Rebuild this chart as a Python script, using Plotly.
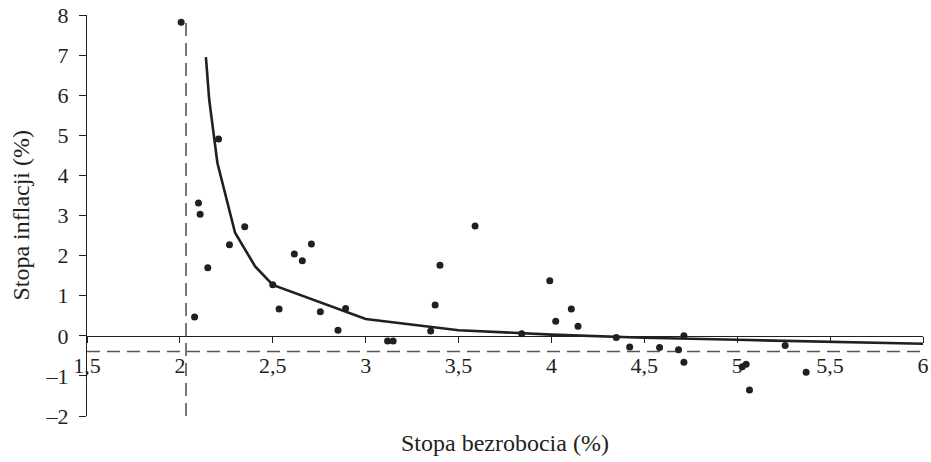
import plotly.graph_objects as go

# Observed data (unemployment %, inflation %)
unemployment = [2.007, 2.079, 2.10, 2.109, 2.15, 2.208, 2.267, 2.349, 2.5, 2.534,
                2.616, 2.659, 2.708, 2.756, 2.851, 2.892, 3.118, 3.148, 3.35, 3.374,
                3.40, 3.589, 3.84, 3.991, 4.023, 4.107, 4.143, 4.349, 4.421, 4.582,
                4.684, 4.713, 4.713, 5.027, 5.048, 5.066, 5.258, 5.371]
inflation = [7.82, 0.47, 3.31, 3.03, 1.70, 4.91, 2.27, 2.72, 1.27, 0.67,
             2.04, 1.87, 2.29, 0.60, 0.14, 0.68, -0.13, -0.13, 0.12, 0.77,
             1.76, 2.74, 0.05, 1.37, 0.36, 0.67, 0.24, -0.04, -0.28, -0.29,
             -0.35, 0.0, -0.66, -0.77, -0.71, -1.35, -0.24, -0.91]

# Fitted Phillips curve
curve_x = [2.14, 2.158, 2.202, 2.297, 2.405, 2.5, 3.0, 3.5, 4.0, 4.5, 5.0, 5.5, 6.0]
curve_y = [6.95, 5.88, 4.31, 2.57, 1.73, 1.27, 0.42, 0.14, 0.03, -0.05, -0.10, -0.15, -0.20]

# Asymptotes
asym_x = 2.033
asym_y = -0.39

x_ticks = [1.5, 2, 2.5, 3, 3.5, 4, 4.5, 5, 5.5, 6]
x_labels = ["1,5", "2", "2,5", "3", "3,5", "4", "4,5", "5", "5,5", "6"]
y_ticks = [-2, -1, 0, 1, 2, 3, 4, 5, 6, 7, 8]
y_labels = ["–2", "–1", "0", "1", "2", "3", "4", "5", "6", "7", "8"]

FONT = "Liberation Serif, Times New Roman, serif"
INK = "#231f20"
DASH_COL = "#555555"

fig = go.Figure()
fig.add_trace(go.Scatter(x=[1.5, 6.0], y=[asym_y, asym_y], mode="lines",
                         line=dict(color=DASH_COL, width=1.6, dash="13px,7px"),
                         hoverinfo="skip", showlegend=False))
fig.add_trace(go.Scatter(x=[asym_x, asym_x], y=[-2, 7.88], mode="lines",
                         line=dict(color=DASH_COL, width=1.6, dash="13px,7px"),
                         hoverinfo="skip", showlegend=False))
fig.add_trace(go.Scatter(x=curve_x, y=curve_y, mode="lines",
                         line=dict(color=INK, width=2.6),
                         showlegend=False))
fig.add_trace(go.Scatter(x=unemployment, y=inflation, mode="markers",
                         marker=dict(color=INK, size=7),
                         showlegend=False))

fig.update_layout(
    width=931, height=462,
    margin=dict(l=87, r=8, t=15, b=46),
    plot_bgcolor="white", paper_bgcolor="white",
    font=dict(family=FONT, size=22, color=INK),
    xaxis=dict(range=[1.5, 6.0], anchor="free", position=0.2, automargin=False,
               showline=True, linecolor=INK, linewidth=1.4,
               ticks="outside", ticklen=6, tickwidth=1.3, tickcolor=INK,
               tickvals=x_ticks, ticktext=x_labels, ticklabelstandoff=4,
               ticklabeloverflow="allow",
               tickfont=dict(family=FONT, size=22, color=INK),
               showgrid=False, zeroline=False),
    yaxis=dict(range=[-2, 8], automargin=False,
               showline=True, linecolor=INK, linewidth=1.4,
               ticks="outside", ticklen=7, tickwidth=1.3, tickcolor=INK,
               tickvals=y_ticks, ticktext=y_labels, ticklabelstandoff=6,
               ticklabeloverflow="allow",
               tickfont=dict(family=FONT, size=22, color=INK),
               showgrid=False, zeroline=False),
    annotations=[
        dict(text="Stopa bezrobocia (%)", xref="paper", yref="paper",
             x=0.5, y=-0.067, xanchor="center", yanchor="middle",
             showarrow=False, font=dict(size=24, family=FONT, color=INK)),
        dict(text="Stopa inflacji (%)", xref="paper", yref="paper",
             x=-0.080, y=0.5, xanchor="center", yanchor="middle", textangle=-90,
             showarrow=False, font=dict(size=24, family=FONT, color=INK)),
    ],
)

# Remove the default 8px page margin so the figure fills the window exactly.
fig.write_html("out.html", config={"displayModeBar": False},
               post_script="document.body.style.margin='0';")
